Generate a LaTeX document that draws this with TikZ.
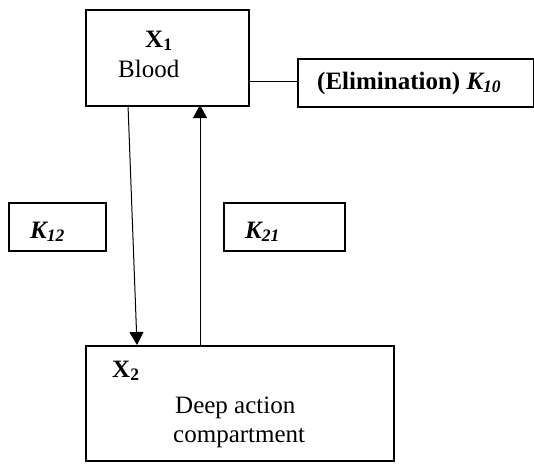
\documentclass[tikz,border=0pt]{standalone}
\usepackage{fontspec}
\setmainfont{Liberation Serif}
\usetikzlibrary{arrows.meta}
\begin{document}
\begin{tikzpicture}[x=1pt,y=-1pt,
  box/.style={draw,line width=1.6pt,inner sep=0pt},
  lbl/.style={font=\fontsize{25}{29}\selectfont,inner sep=0pt,anchor=base west},
  conn/.style={line width=1pt},
  arr/.style={line width=1pt,-{Triangle[length=13pt,width=14pt]}}]
\useasboundingbox (0,0) rectangle (534,466);
% boxes
\node[box,minimum width=163pt,minimum height=96pt,anchor=north west] (blood) at (85,9) {};
\node[box,minimum width=236pt,minimum height=48pt,anchor=north west] (elim) at (297,58) {};
\node[box,minimum width=97pt,minimum height=48pt,anchor=north west] (k12) at (8,202) {};
\node[box,minimum width=121pt,minimum height=48pt,anchor=north west] (k21) at (223,202) {};
\node[box,minimum width=308pt,minimum height=115pt,anchor=north west] (deep) at (85,345) {};
% texts
\node[lbl] (x1) at (145,47) {\textbf{X\textsubscript{1}}};
\node[lbl] (bloodt) at (118,77) {Blood};
\node[lbl] (elimt) at (317,89) {\textbf{(Elimination) \textit{K\textsubscript{10}}}};
\node[lbl] (k12t) at (30,238) {\textbf{\textit{K\textsubscript{12}}}};
\node[lbl] (k21t) at (245,238) {\textbf{\textit{K\textsubscript{21}}}};
\node[lbl] (x2t) at (112,377) {\textbf{X\textsubscript{2}}};
\node[lbl] (deept) at (175,413) {Deep action};
\node[lbl] (compt) at (173,442) {compartment};
% connectors
\coordinate (d1) at (128,105);
\coordinate (d2) at (137,345);
\coordinate (u1) at (200,345);
\coordinate (u2) at (200,105);
\draw[conn] (blood.east|-0,81) -- (elim.west|-0,81);
\draw[arr] (d1) -- (d2);
\draw[arr] (u1) -- (u2);
\end{tikzpicture}
\end{document}
